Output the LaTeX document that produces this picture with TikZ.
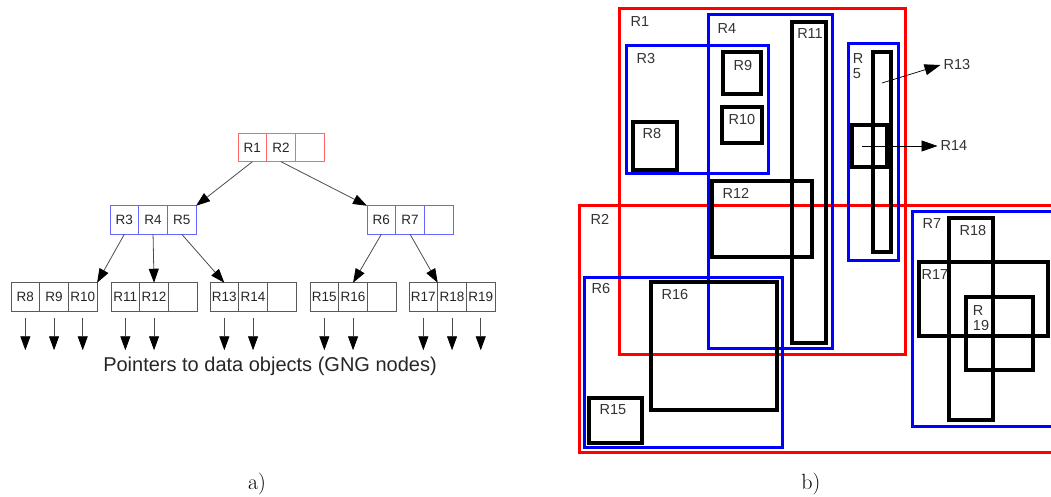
\documentclass[tikz,border=0pt]{standalone}
\usepackage{fontspec}
\setsansfont{Liberation Sans}
\usetikzlibrary{positioning,arrows.meta,calc}

\tikzset{
  cell/.style={draw, minimum width=28.7pt, minimum height=28.5pt, inner sep=0pt, outer sep=0pt,
    line width=1pt, text=black!85, font=\sffamily\fontsize{13.5}{14}\selectfont},
  rootcell/.style={cell, draw=red!60},
  midcell/.style={cell, draw=blue!60},
  leafcell/.style={cell, draw=black!65},
  edge/.style={-{Triangle[length=14pt,width=10pt,color=black]}, black!70, line width=0.8pt},
  pick/.style={-{Triangle[length=16pt,width=11pt,color=black]}, black, line width=0.7pt},
  mbr/.style={line width=3pt},
  obj/.style={line width=3.5pt, black},
  lbl/.style={font=\sffamily\fontsize{14.5}{15}\selectfont, text=black!80, inner sep=0pt, align=left}
}

\begin{document}
\begin{tikzpicture}[x=1pt, y=-1pt]
\useasboundingbox (0,0) rectangle (1051,497);
% ---------- left: the tree ----------
\foreach \nm/\st/\x/\y/\a/\b/\c in {
  rt/rootcell/238/147.5/R1/R2/{},
  ma/midcell/110/220/R3/R4/R5,
  mb/midcell/367/220/R6/R7/{},
  la/leafcell/11/297/R8/R9/R10,
  lb/leafcell/111/297/R11/R12/{},
  lc/leafcell/210/297/R13/R14/{},
  ld/leafcell/310/297/R15/R16/{},
  le/leafcell/409/297/R17/R18/R19} {
  \node[\st, anchor=west] (\nm-1) at (\x,\y) {\a};
  \node[\st, right=0pt of \nm-1] (\nm-2) {\b};
  \node[\st, right=0pt of \nm-2] (\nm-3) {\c};
}
% child pointers
\draw[edge] (rt-1.south) -- (ma-3.north east);
\draw[edge] (rt-2.south) -- (mb-1.north west);
\draw[edge] (ma-1.south) -- (la-3.north east);
\draw[edge] (ma-2.south) -- (lb-2.north);
\draw[edge] (ma-3.south) -- (lc-1.north);
\draw[edge] (mb-1.south) -- (ld-2.north);
\draw[edge] (mb-2.south) -- (le-2.north west);
% pointers to the data
\foreach \c in {la-1,la-2,la-3,lb-1,lb-2,lc-1,lc-2,ld-1,ld-2,le-1,le-2,le-3}
  \draw[edge] (\c.south) ++(0,7) -- ++(0,32);
\node[font=\sffamily\fontsize{20}{22}\selectfont, text=black!85] (ptrs) at (270,366) {Pointers to data objects (GNG nodes)};
\node[font=\fontsize{22}{24}\selectfont] (capa) at (257,484) {a)};
% ---------- right: the rectangles ----------
\begin{scope}
\clip (0,0) rectangle (1051,497);
\draw[mbr, red] (619,9) rectangle (905,354);
\draw[mbr, red] (579,205) rectangle (1060,452);
\draw[mbr, blue] (708,15) rectangle (832,348);
\draw[mbr, blue] (626,46) rectangle (768,174);
\draw[mbr, blue] (848,44) rectangle (898,260);
\draw[mbr, blue] (584,277) rectangle (782,447);
\draw[mbr, blue] (912,211) rectangle (1060,426);
% objects
\draw[obj] (792,22) rectangle (826,343);
\draw[obj] (723,52) rectangle (761,94);
\draw[obj] (722,107) rectangle (762,143);
\draw[obj] (633,122) rectangle (677,170);
\draw[obj] (712,181) rectangle (812,257);
\draw[obj] (873,52) rectangle (891,252);
\draw[obj] (852,125) rectangle (887,167);
\draw[obj] (651,282) rectangle (777,410);
\draw[obj] (589,398) rectangle (642,443);
\draw[obj] (949,218) rectangle (993,420);
\draw[obj] (919,262) rectangle (1048,336);
\draw[obj] (966,297) rectangle (1033,370);
\end{scope}
% names
\node[lbl] (n1) at (640,22) {R1};
\node[lbl] (n2) at (600,219) {R2};
\node[lbl] (n3) at (646,59) {R3};
\node[lbl] (n4) at (727,29) {R4};
\node[lbl] (n5) at (858,66) {R\\5};
\node[lbl] (n6) at (601,289) {R6};
\node[lbl] (n7) at (932,224) {R7};
\node[lbl] (n8) at (652,134) {R8};
\node[lbl] (n9) at (743,66) {R9};
\node[lbl] (n10) at (742,120) {R10};
\node[lbl] (n11) at (810,34) {R11};
\node[lbl] (n12) at (736,193) {R12};
\node[lbl] (n15) at (613,410) {R15};
\node[lbl] (n16) at (675,295) {R16};
\node[lbl] (n17) at (935,275) {R17};
\node[lbl] (n18) at (973,231) {R18};
\node[lbl] (n19) at (981,318) {R\\19};
% the two outside labels
\coordinate (p13) at (882,83);
\coordinate (p14) at (862,146);
\node[lbl, inner sep=3pt] (n13) at (957,65) {R13};
\node[lbl, inner sep=3pt] (n14) at (954,146) {R14};
\draw[pick] (p13) -- (n13.west);
\draw[pick] (p14) -- (n14.west);
\node[font=\fontsize{22}{24}\selectfont] (capb) at (811,484) {b)};
\end{tikzpicture}
\end{document}
